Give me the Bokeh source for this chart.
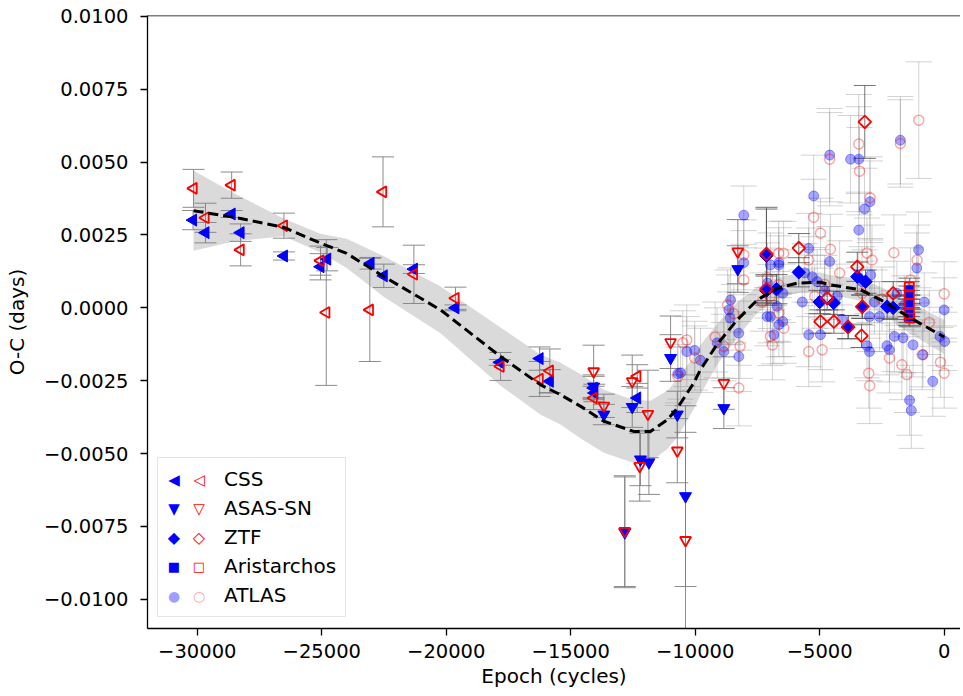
import math
from bokeh.plotting import figure
from bokeh.models import (ColumnDataSource, FixedTicker, CustomJSTickFormatter, Legend,
                          LegendItem, Span, Range1d, Label)
from bokeh.embed import file_html
from bokeh.resources import INLINE

# ---------------- data ----------------
# fit curve and its confidence band
fit_x = [-30150, -28540, -26520, -25050, -24000, -22500, -20230, -17820, -16210, -15410,
         -14600, -13670, -12470, -11800, -11120, -10720, -10060, -9790, -9120, -8310,
         -7510, -6710, -5900, -4970, -4570, -3360, -2430, -1350, 0]
fit_y = [0.00333, 0.00311, 0.00276, 0.00222, 0.00187, 0.00107, -0.00007, -0.00167, -0.00264, -0.00298,
         -0.00338, -0.00389, -0.00424, -0.00424, -0.00384, -0.00344, -0.00258, -0.00212, -0.00125, -0.00041,
         0.00027, 0.00067, 0.00085, 0.00088, 0.00079, 0.00062, 0.00022, -0.00035, -0.00100]
band_lo = [0.00196, 0.00228, 0.00246, 0.00190, 0.00137, 0.00037, -0.00087, -0.00267, -0.00367, -0.00400,
           -0.00448, -0.00497, -0.00532, -0.00529, -0.00484, -0.00444, -0.00348, -0.00297, -0.00195, -0.00101,
           -0.00018, 0.00030, 0.00052, 0.00055, 0.00046, 0.00024, -0.00023, -0.00090, -0.00158]
band_hi = [0.00470, 0.00394, 0.00306, 0.00254, 0.00237, 0.00177, 0.00073, -0.00067, -0.00161, -0.00188,
           -0.00228, -0.00281, -0.00316, -0.00319, -0.00284, -0.00244, -0.00168, -0.00127, -0.00055, 0.00019,
           0.00072, 0.00104, 0.00118, 0.00121, 0.00112, 0.00100, 0.00067, 0.00020, -0.00042]

# CSS
css_b_x = [-30170, -29670, -28620, -28260, -26520, -25050, -24780, -23040, -22510, -21300,
           -19630, -17850, -16250, -15840, -14080, -14050, -12330]
css_b_y = [0.00301, 0.00258, 0.00322, 0.00258, 0.00178, 0.00141, 0.00167, 0.00153, 0.00110, 0.00133,
           0.00000, -0.00187, -0.00174, -0.00252, -0.00275, -0.00292, -0.00309]
css_b_e = [0.00033, 0.00035, 0.00012, 0.00030, 0.00014, 0.00045, 0.00040, 0.00020, 0.00040, 0.00015,
           0.00010, 0.00010, 0.00040, 0.00040, 0.00040, 0.00030, 0.00050]
css_r_x = [-30150, -29670, -28620, -28260, -26520, -25050, -24820, -22540, -23070, -21300,
           -19630, -17820, -15840, -16250, -14080, -12330]
css_r_y = [0.00410, 0.00309, 0.00421, 0.00199, 0.00282, 0.00162, -0.00016, 0.00398, -0.00007, 0.00115,
           0.00033, -0.00201, -0.00216, -0.00244, -0.00309, -0.00235]
css_r_e = [0.00065, 0.00050, 0.00045, 0.00055, 0.00043, 0.00050, 0.00250, 0.00120, 0.00177, 0.00100,
           0.00038, 0.00048, 0.00075, 0.00060, 0.00040, 0.00040]

# ASAS-SN
asas_b_x = [-14080, -13670, -12530, -12200, -11860, -12830, -10990, -10720, -10390, -8850, -8290]
asas_b_y = [-0.00270, -0.00366, -0.00340, -0.00520, -0.00530, -0.00770, -0.00172, -0.00366, -0.00646,
            -0.00344, 0.00133]
asas_b_e = [0.00040, 0.00035, 0.00070, 0.00090, 0.00110, 0.00190, 0.00080, 0.00080, 0.00310, 0.00070, 0.00080]
asas_r_x = [-14080, -13670, -12530, -11900, -12230, -12830, -10990, -10720, -10390, -8850, -8290]
asas_r_y = [-0.00218, -0.00336, -0.00252, -0.00364, -0.00543, -0.00766, -0.00118, -0.00490, -0.00797,
            -0.00258, 0.00193]
asas_r_e = [0.00090, 0.00040, 0.00090, 0.00150, 0.00120, 0.00190, 0.00090, 0.00110, 0.00370, 0.00090, 0.00110]

# ZTF
ztf_b_x = [-7140, -7140, -6735, -5840, -5000, -4440, -3855, -3490, -3160, -3290, -2290, -2050]
ztf_b_y = [0.00179, 0.00059, 0.00064, 0.00122, 0.00020, 0.00017, -0.00066, 0.00107, 0.00090, 0.00004,
           0.00004, 0.00000]
ztf_b_e = [0.00160, 0.00050, 0.00050, 0.00050, 0.00040, 0.00040, 0.00040, 0.00050, 0.00040, 0.00040,
           0.00040, 0.00040]
ztf_r_x = [-7140, -7140, -5840, -4970, -4430, -4700, -3860, -3490, -3190, -3320, -3290, -2050]
ztf_r_y = [0.00185, 0.00064, 0.00205, -0.00047, -0.00047, 0.00033, -0.00066, 0.00141, 0.00638, -0.00096,
           0.00004, 0.00050]
ztf_r_e = [0.00160, 0.00050, 0.00050, 0.00040, 0.00040, 0.00040, 0.00040, 0.00050, 0.00125, 0.00040,
           0.00040, 0.00040]

# Aristarchos
ari_b_x = [-1420, -1420, -1420, -1420]
ari_b_y = [0.00060, 0.00030, 0.00000, -0.00030]
ari_b_e = [0.00030, 0.00030, 0.00030, 0.00030]
ari_r_x = [-1400, -1400, -1400, -1400, -1380]
ari_r_y = [0.00072, 0.00045, 0.00015, -0.00020, -0.00035]
ari_r_e = [0.00030, 0.00030, 0.00030, 0.00030, 0.00030]

# ATLAS
atl_b_x = [-10700, -10590, -10340, -10020, -9790, -9120, -8850, -8650, -8580, -8600, -8250, -8250,
           -8050, -8050, -7110, -7100, -6980, -6980, -6840, -6710, -6640, -6640, -6640, -6480, -6480,
           -5700, -5600, -5440, -5440, -5300, -5240, -5100, -4970, -4800, -4600, -4600, -4300, -4100,
           -3760, -3430, -3430, -3300, -3200, -3100, -3000, -3000, -2980, -2950, -2800, -2600, -2300,
           -2200, -2000, -1900, -1760, -1650, -1600, -1390, -1320, -1250, -1100, -1030, -850, -800,
           -460, -170, 0, 20]
atl_b_y = [-0.00226, -0.00223, -0.00150, -0.00146, -0.00180, -0.00120, -0.00150, -0.00007, 0.00027,
           -0.00035, -0.00087, -0.00167, 0.00318, 0.00155, -0.00030, 0.00085, 0.00147, -0.00030, -0.00092,
           0.00005, 0.00147, 0.00155, -0.00058, 0.00050, -0.00047, 0.00020, 0.00120, 0.00204, -0.00092,
           0.00107, 0.00384, 0.00090, -0.00092, 0.00060, 0.00524, 0.00159, 0.00040, -0.00040, 0.00510,
           0.00510, 0.00267, 0.00090, 0.00339, -0.00130, -0.00030, -0.00150, 0.00364, 0.00113, 0.00020,
           -0.00030, -0.00130, -0.00144, -0.00098, 0.00050, 0.00575, -0.00103, 0.00010, -0.00317, -0.00352,
           -0.00127, 0.00137, 0.00199, -0.00161, 0.00020, -0.00252, -0.00098, -0.00007, -0.00115]
atl_b_e = [0.0010, 0.0009, 0.0012, 0.0010, 0.0011, 0.0012, 0.0010, 0.0012, 0.0011, 0.0009, 0.0011, 0.0012,
           0.0010, 0.0011, 0.0010, 0.0012, 0.0011, 0.0009, 0.0010, 0.0012, 0.0010, 0.0012, 0.0011, 0.0010,
           0.0012, 0.0011, 0.0010, 0.0012, 0.0011, 0.0010, 0.0014, 0.0011, 0.0012, 0.0010, 0.0016, 0.0012,
           0.0011, 0.0010, 0.0015, 0.0018, 0.0013, 0.0012, 0.0014, 0.0011, 0.0012, 0.0010, 0.0014, 0.0012,
           0.0011, 0.0012, 0.0010, 0.0011, 0.0012, 0.0011, 0.0015, 0.0012, 0.0010, 0.0012, 0.0013, 0.0011,
           0.0012, 0.0013, 0.0011, 0.0010, 0.0012, 0.0010, 0.0011, 0.0010]
atl_r_x = [-10700, -10500, -10340, -10020, -9200, -8850, -8700, -8450, -8250, -8200, -8050, -8050,
           -7300, -7100, -6980, -6980, -6900, -6650, -6650, -6640, -6450, -6440, -5440, -5440, -5240,
           -5200, -4970, -4900, -4800, -4600, -4570, -4200, -3430, -3400, -3300, -3100, -3030, -2990,
           -2980, -2900, -2500, -2200, -2020, -1760, -1700, -1500, -1350, -1090, -1020, -880, -600,
           -150, 0, 0]
atl_r_y = [-0.00235, -0.00120, -0.00110, -0.00172, -0.00100, -0.00132, 0.00010, -0.00020, -0.00275,
           -0.00132, 0.00182, 0.00096, 0.00020, 0.00103, 0.00039, -0.00098, -0.00127, 0.00187, 0.00079,
           -0.00018, 0.00187, -0.00070, 0.00164, -0.00150, 0.00311, 0.00040, 0.00256, -0.00144, 0.00080,
           0.00510, 0.00201, 0.00120, 0.00562, 0.00469, 0.00050, 0.00188, -0.00224, -0.00267, 0.00378,
           0.00164, 0.00030, -0.00172, 0.00189, 0.00564, -0.00195, -0.00229, 0.00096, 0.00164, 0.00644,
           -0.00161, -0.00050, -0.00187, 0.00048, -0.00224]
atl_r_e = [0.0010, 0.0011, 0.0012, 0.0011, 0.0012, 0.0011, 0.0012, 0.0010, 0.0013, 0.0011, 0.0012, 0.0011,
           0.0010, 0.0012, 0.0011, 0.0010, 0.0012, 0.0011, 0.0012, 0.0010, 0.0011, 0.0012, 0.0011, 0.0012,
           0.0013, 0.0011, 0.0012, 0.0011, 0.0010, 0.0016, 0.0012, 0.0011, 0.0017, 0.0015, 0.0011, 0.0012,
           0.0012, 0.0013, 0.0014, 0.0012, 0.0011, 0.0012, 0.0013, 0.0015, 0.0012, 0.0013, 0.0011, 0.0012,
           0.0020, 0.0012, 0.0011, 0.0012, 0.0011, 0.0012]

x_ticks = [-30000, -25000, -20000, -15000, -10000, -5000, 0]
y_ticks = [-0.0100, -0.0075, -0.0050, -0.0025, 0.0, 0.0025, 0.0050, 0.0075, 0.0100]
legend_names = ["CSS", "ASAS-SN", "ZTF", "Aristarchos", "ATLAS"]
# legend symbols: (filled/blue, open/red) per row
legend_syms = [("\u25c0", "\u25c1"), ("\u25bc", "\u25bd"), ("\u25c6", "\u25c7"),
               ("\u25a0", "\u25a1"), ("\u25cf", "\u25cb")]

BLUE = "#0000ff"
RED = "#ff0000"
FONT = "DejaVu Sans"

# ---------------- figure ----------------
p = figure(width=960, height=692, x_range=Range1d(-32000, 655), y_range=Range1d(-0.011, 0.01003),
           output_backend="svg", toolbar_location=None,
           min_border_left=147, min_border_right=0, min_border_top=15, min_border_bottom=64)
p.outline_line_color = None
p.xgrid.visible = False
p.ygrid.visible = False
p.background_fill_color = "white"
p.border_fill_color = "white"

for ax in (p.xaxis[0], p.yaxis[0]):
    ax.axis_line_width = 1.3
    ax.axis_line_color = "black"
    ax.major_tick_line_width = 1.3
    ax.major_tick_line_color = "black"
    ax.major_tick_out = 7
    ax.major_tick_in = 0
    ax.minor_tick_line_color = None
    ax.major_label_text_font = FONT
    ax.major_label_text_font_size = "19.5px"
    ax.major_label_text_color = "black"
    ax.axis_label_text_font = FONT
    ax.axis_label_text_font_style = "normal"
    ax.axis_label_text_color = "black"
    ax.axis_label_text_font_size = "20px"

p.xaxis.ticker = FixedTicker(ticks=x_ticks)
p.yaxis.ticker = FixedTicker(ticks=y_ticks)
p.xaxis.formatter = CustomJSTickFormatter(
    code="return (tick < 0 ? '\u2212' : '') + Math.abs(tick).toFixed(0);")
p.yaxis.formatter = CustomJSTickFormatter(
    code="return (tick < -1e-12 ? '\u2212' : '') + Math.abs(tick).toFixed(4);")
p.xaxis.axis_label = "Epoch (cycles)"
p.yaxis.axis_label = "O-C (days)"
p.xaxis.major_label_standoff = 8
p.yaxis.major_label_standoff = 12
p.xaxis.axis_label_standoff = 3
p.yaxis.axis_label_standoff = 12

# top spine (the right spine lies outside the visible area in the reference)
p.add_layout(Span(location=0.01003, dimension="width", line_color="black", line_width=1.3))

# confidence band
p.varea(x=fit_x, y1=band_lo, y2=band_hi, fill_color="#d3d3d3", fill_alpha=0.85)


def errorbars(xs, ys, es, color, alpha, cap, lw=1.0):
    lo = [y - e for y, e in zip(ys, es)]
    hi = [y + e for y, e in zip(ys, es)]
    src = ColumnDataSource(dict(x=xs, lo=lo, hi=hi))
    p.segment(x0="x", y0="lo", x1="x", y1="hi", source=src,
              line_color=color, line_alpha=alpha, line_width=lw)
    p.scatter(x="x", y="lo", source=src, marker="dash", size=cap,
              line_color=color, line_alpha=alpha, line_width=lw)
    p.scatter(x="x", y="hi", source=src, marker="dash", size=cap,
              line_color=color, line_alpha=alpha, line_width=lw)


errorbars(atl_b_x, atl_b_y, atl_b_e, "#808080", 0.35, 26)
errorbars(atl_r_x, atl_r_y, atl_r_e, "#808080", 0.35, 26)
errorbars(css_b_x, css_b_y, css_b_e, "#808080", 0.9, 22)
errorbars(css_r_x, css_r_y, css_r_e, "#808080", 0.9, 22)
errorbars(asas_b_x, asas_b_y, asas_b_e, "#808080", 0.9, 22)
errorbars(asas_r_x, asas_r_y, asas_r_e, "#808080", 0.9, 22)
errorbars(ztf_b_x, ztf_b_y, ztf_b_e, "#505050", 0.8, 22)
errorbars(ztf_r_x, ztf_r_y, ztf_r_e, "#505050", 0.8, 22)
errorbars(ari_b_x, ari_b_y, ari_b_e, "#505050", 0.8, 22)
errorbars(ari_r_x, ari_r_y, ari_r_e, "#505050", 0.8, 22)


def markers(xs, ys, marker, color, filled, size, angle=0.0, alpha=1.0, lw=1.8):
    src = ColumnDataSource(dict(x=xs, y=ys))
    return p.scatter(x="x", y="y", source=src, marker=marker, size=size, angle=angle,
                     line_color=color, line_alpha=alpha, line_width=lw,
                     fill_color=color if filled else None, fill_alpha=alpha if filled else 0)


markers(atl_b_x, atl_b_y, "circle", BLUE, True, 10, alpha=0.35, lw=1.0)
markers(atl_r_x, atl_r_y, "circle", RED, False, 10, alpha=0.35, lw=1.5)
markers(css_b_x, css_b_y, "triangle", BLUE, True, 12, angle=math.pi / 2, lw=1.0)
markers(css_r_x, css_r_y, "triangle", RED, False, 11, angle=math.pi / 2)
markers(asas_b_x, asas_b_y, "inverted_triangle", BLUE, True, 12, lw=1.0)
markers(asas_r_x, asas_r_y, "inverted_triangle", RED, False, 11)
markers(ztf_b_x, ztf_b_y, "square", BLUE, True, 9.5, angle=math.pi / 4, lw=1.0)
markers(ztf_r_x, ztf_r_y, "square", RED, False, 9, angle=math.pi / 4)
markers(ari_b_x, ari_b_y, "square", BLUE, True, 9, lw=1.0)
markers(ari_r_x, ari_r_y, "square", RED, False, 9)

# fit
p.line(fit_x, fit_y, line_color="black", line_width=3, line_dash="10 5")

# invisible renderer, only used so the legend box rows have an (empty) glyph
r_none = p.scatter(x=fit_x[:1], y=fit_y[:1], size=1, alpha=0)

# ---------------- legend ----------------
LEG_Y = 11
box = Legend(items=[LegendItem(label=n, renderers=[r_none]) for n in legend_names],
             location=(10, LEG_Y), orientation="vertical", glyph_width=24, glyph_height=24,
             spacing=5, padding=9, label_height=24, margin=0, label_standoff=33,
             label_text_font=FONT, label_text_font_size="20px", label_text_color="black",
             border_line_color="#cccccc", border_line_width=1.2, background_fill_alpha=0)
p.add_layout(box)

# legend symbols (blue filled + red open) drawn as glyph characters
row_y = [149, 120, 91, 62, 33]
sym_size = ["15px", "15px", "16px", "13px", "14px"]
sym_alpha = [1.0, 1.0, 1.0, 1.0, 0.4]
for (sb, sr), yy, fs, al in zip(legend_syms, row_y, sym_size, sym_alpha):
    for txt, col, xx in ((sb, BLUE, 26.5), (sr, RED, 51.5)):
        p.add_layout(Label(x=xx, y=yy, x_units="screen", y_units="screen", text=txt,
                           text_color=col, text_alpha=al, text_font=FONT, text_font_size=fs,
                           text_font_style="bold", text_align="center", text_baseline="middle",
                           level="overlay"))

open("out.html", "w").write(file_html(p, INLINE))
